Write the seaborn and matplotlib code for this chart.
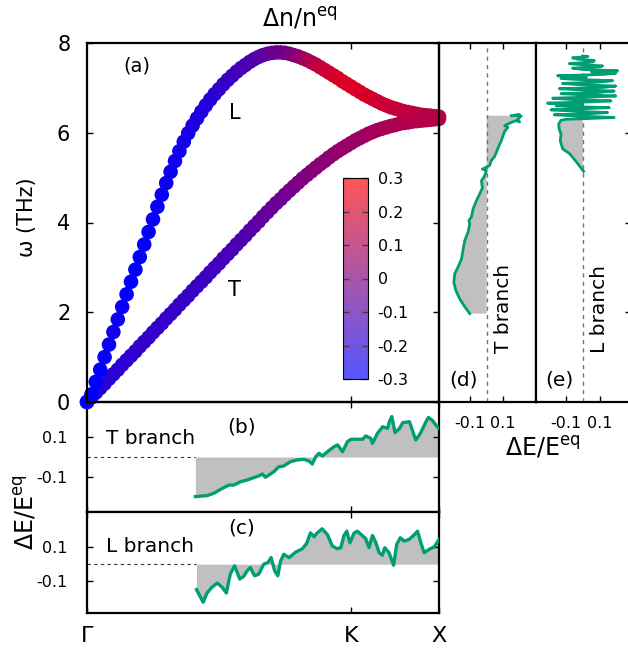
import numpy as np
import matplotlib
matplotlib.use("Agg")
import matplotlib.pyplot as plt
from matplotlib.colors import LinearSegmentedColormap, Normalize
from matplotlib.cm import ScalarMappable
import seaborn as sns

plt.rcParams['font.family'] = ['DejaVu Sans']
plt.rcParams['mathtext.fontset'] = 'dejavusans'
plt.rcParams['axes.unicode_minus'] = False

# ---- panel (a): dispersion, coloured by dn/n_eq ----
q = np.linspace(0, 1, 81)   # Gamma -> K -> X path (K at 0.75)
omega_L = [0.00, 0.17, 0.45, 0.72, 1.00, 1.28, 1.56, 1.84, 2.12, 2.40,
           2.68, 2.95, 3.23, 3.51, 3.79, 4.07, 4.35, 4.62, 4.88, 5.13,
           5.37, 5.59, 5.80, 5.99, 6.16, 6.32, 6.47, 6.61, 6.74, 6.86,
           6.97, 7.08, 7.18, 7.27, 7.36, 7.44, 7.51, 7.58, 7.64, 7.69,
           7.73, 7.76, 7.78, 7.79, 7.79, 7.78, 7.76, 7.73, 7.70, 7.66,
           7.62, 7.57, 7.52, 7.46, 7.40, 7.34, 7.28, 7.22, 7.15, 7.09,
           7.03, 6.97, 6.91, 6.85, 6.80, 6.75, 6.70, 6.65, 6.61, 6.57,
           6.54, 6.51, 6.48, 6.46, 6.44, 6.42, 6.40, 6.39, 6.38, 6.37, 6.36]
omega_T = [0.00, 0.10, 0.21, 0.31, 0.41, 0.52, 0.62, 0.72, 0.83, 0.93,
           1.03, 1.13, 1.24, 1.34, 1.44, 1.55, 1.65, 1.75, 1.86, 1.96,
           2.06, 2.17, 2.27, 2.37, 2.48, 2.58, 2.68, 2.78, 2.89, 2.99,
           3.09, 3.20, 3.30, 3.40, 3.51, 3.61, 3.71, 3.82, 3.92, 4.02,
           4.13, 4.23, 4.33, 4.43, 4.52, 4.62, 4.71, 4.80, 4.89, 4.98,
           5.06, 5.14, 5.22, 5.30, 5.37, 5.45, 5.52, 5.59, 5.65, 5.71,
           5.77, 5.83, 5.88, 5.93, 5.98, 6.02, 6.06, 6.09, 6.12, 6.15,
           6.17, 6.20, 6.22, 6.23, 6.25, 6.26, 6.27, 6.28, 6.29, 6.30, 6.31]
dn_L = [-0.30, -0.30, -0.30, -0.30, -0.29, -0.27, -0.26, -0.27, -0.28, -0.29,
        -0.30, -0.30, -0.30, -0.29, -0.29, -0.28, -0.28,
        -0.28, -0.27, -0.27, -0.26, -0.26, -0.25, -0.25, -0.24,
        -0.23, -0.23, -0.22, -0.21, -0.20, -0.19, -0.18, -0.17,
        -0.16, -0.15, -0.14, -0.13, -0.12, -0.11, -0.10, -0.08,
        -0.07, -0.06, -0.05, -0.04, -0.03, -0.01, 0.01, 0.03,
        0.06, 0.09, 0.11, 0.13, 0.15, 0.17, 0.18, 0.19,
        0.20, 0.21, 0.22, 0.22, 0.22, 0.21, 0.21, 0.20,
        0.19, 0.19, 0.18, 0.18, 0.17, 0.17, 0.16, 0.16,
        0.15, 0.15, 0.14, 0.14, 0.13, 0.13, 0.13, 0.13]
dn_T = [-0.24, -0.23, -0.22, -0.21, -0.21, -0.20, -0.20, -0.20, -0.19,
        -0.19, -0.19, -0.19, -0.18, -0.18, -0.18, -0.18, -0.18,
        -0.18, -0.18, -0.17, -0.17, -0.17, -0.17, -0.17, -0.17,
        -0.16, -0.16, -0.16, -0.15, -0.15, -0.14, -0.14, -0.13,
        -0.13, -0.12, -0.11, -0.11, -0.10, -0.09, -0.08, -0.07,
        -0.07, -0.06, -0.05, -0.04, -0.04, -0.03, -0.02, -0.01,
        0.00, 0.00, 0.01, 0.02, 0.02, 0.03, 0.03, 0.04,
        0.04, 0.05, 0.05, 0.06, 0.06, 0.07, 0.07, 0.08,
        0.08, 0.09, 0.09, 0.10, 0.10, 0.10, 0.11, 0.11,
        0.11, 0.12, 0.12, 0.12, 0.12, 0.12, 0.12, 0.12]

# ---- panel (b): T branch dE/E_eq along the path ----
xb = [0.308, 0.341, 0.360, 0.379, 0.403, 0.417, 0.436, 0.455, 0.469, 0.488,
      0.498, 0.507, 0.517, 0.531, 0.545, 0.559, 0.578, 0.597, 0.616, 0.631,
      0.640, 0.650, 0.659, 0.669, 0.683, 0.702, 0.712, 0.726, 0.740, 0.750,
      0.769, 0.783, 0.792, 0.806, 0.811, 0.825, 0.840, 0.854, 0.859, 0.866,
      0.875, 0.888, 0.897, 0.916, 0.934, 0.947, 0.963, 0.970, 0.982, 0.991, 1.000]
dEb = [-0.203, -0.198, -0.186, -0.166, -0.144, -0.144, -0.127, -0.118, -0.109, -0.097,
       -0.087, -0.104, -0.092, -0.075, -0.050, -0.046, -0.024, -0.015, -0.012, -0.021,
       -0.036, 0.002, 0.019, 0.005, 0.027, 0.053, 0.062, 0.027, 0.079, 0.091,
       0.091, 0.091, 0.108, 0.096, 0.070, 0.121, 0.155, 0.147, 0.181, 0.207,
       0.125, 0.147, 0.176, 0.181, 0.087, 0.121, 0.181, 0.203, 0.186, 0.164, 0.147]

# ---- panel (c): L branch ----
xc = [0.311, 0.330, 0.341, 0.355, 0.370, 0.384, 0.396, 0.407, 0.419, 0.434,
      0.445, 0.455, 0.464, 0.476, 0.488, 0.502, 0.514, 0.523, 0.533, 0.542,
      0.550, 0.559, 0.574, 0.593, 0.612, 0.624, 0.635, 0.645, 0.654, 0.668,
      0.683, 0.697, 0.711, 0.721, 0.730, 0.738, 0.747, 0.759, 0.768, 0.782,
      0.792, 0.801, 0.811, 0.820, 0.830, 0.839, 0.846, 0.858, 0.871, 0.880,
      0.890, 0.901, 0.915, 0.930, 0.939, 0.949, 0.958, 0.972, 0.987, 1.000]
dEc = [-0.151, -0.226, -0.171, -0.137, -0.112, -0.137, -0.171, -0.059, -0.010, -0.088,
       -0.073, -0.039, -0.020, -0.069, -0.059, 0.000, 0.010, 0.039, -0.039, -0.069,
       0.019, 0.059, 0.039, 0.072, 0.092, 0.123, 0.186, 0.163, 0.186, 0.210,
       0.176, 0.108, 0.092, 0.098, 0.170, 0.196, 0.127, 0.186, 0.196, 0.170,
       0.151, 0.098, 0.170, 0.131, 0.068, 0.053, 0.098, 0.068, -0.006, 0.118,
       0.157, 0.137, 0.147, 0.176, 0.196, 0.123, 0.068, 0.088, 0.104, 0.147]

# ---- panel (d): T branch vs frequency ----
dEd = [-0.103, -0.133, -0.164, -0.188, -0.200, -0.194, -0.174, -0.153, -0.143, -0.133,
       -0.113, -0.103, -0.108, -0.093, -0.083, -0.062, -0.042, -0.026, -0.032, -0.012,
       -0.002, -0.026, 0.018, 0.028, 0.048, 0.063, 0.075, 0.089, 0.099, 0.109,
       0.129, 0.109, 0.150, 0.180, 0.200, 0.190, 0.210, 0.170, 0.200, 0.150]
wd = [1.97, 2.12, 2.30, 2.49, 2.67, 2.86, 3.01, 3.19, 3.41, 3.60,
      3.79, 3.97, 4.05, 4.12, 4.30, 4.49, 4.64, 4.77, 4.93, 5.04,
      5.16, 5.19, 5.27, 5.38, 5.47, 5.60, 5.71, 5.82, 5.93, 6.03,
      6.12, 6.16, 6.23, 6.27, 6.24, 6.31, 6.37, 6.39, 6.40, 6.38]

# ---- panel (e): L branch vs frequency ----
dEe_low = [0.004, -0.022, -0.051, -0.080, -0.119, -0.133, -0.129, -0.139, -0.143, -0.129, -0.100]
we_low = [5.14, 5.27, 5.41, 5.54, 5.64, 5.82, 5.97, 6.08, 6.19, 6.28, 6.30]
dEe_up = [0.05, 0.184, -0.02, -0.169, 0.02, 0.145, -0.05, -0.188, 0.03, 0.155,
          -0.05, -0.158, 0.0, -0.208, 0.06, 0.165, -0.06, -0.178, 0.08, 0.194,
          -0.03, -0.129, 0.10, 0.184, -0.04, -0.139, 0.12, 0.194, -0.02, -0.120,
          0.10, 0.175, -0.05, -0.129, 0.02, -0.149, 0.12, 0.194, 0.05, 0.204,
          0.0, -0.061, 0.10, 0.116, -0.02, -0.080, 0.06, 0.067, -0.03, -0.061,
          0.03, 0.00]
we_up = [6.32, 6.34, 6.37, 6.40, 6.42, 6.45, 6.48, 6.51, 6.54, 6.56,
         6.58, 6.60, 6.63, 6.66, 6.69, 6.71, 6.74, 6.77, 6.80, 6.82,
         6.85, 6.87, 6.90, 6.93, 6.96, 6.98, 7.01, 7.04, 7.07, 7.10,
         7.13, 7.16, 7.19, 7.21, 7.24, 7.27, 7.30, 7.33, 7.36, 7.38,
         7.41, 7.44, 7.47, 7.49, 7.52, 7.54, 7.58, 7.61, 7.64, 7.67,
         7.70, 7.71]

cb_ticks = [-0.3, -0.2, -0.1, 0.0, 0.1, 0.2, 0.3]
cb_labels = ['-0.3', '-0.2', '-0.1', '0', '0.1', '0.2', '0.3']
path_ticks = [0, 0.75, 1]
path_labels = ['Γ', 'K', 'X']

green = '#009e73'
gray = '#c0c0c0'
cmap = LinearSegmentedColormap.from_list('br', ['#0000ff', '#ff0000'])
cmap_light = LinearSegmentedColormap.from_list('br_light', ['#5555ff', '#ff5555'])

W, H = 628, 648
fig = plt.figure(figsize=(W / 100, H / 100), dpi=100)


def box(x0, y0, x1, y1):
    return [x0 / W, 1 - y1 / H, (x1 - x0) / W, (y1 - y0) / H]


ax_a = fig.add_axes(box(87, 43, 439, 402))
ax_b = fig.add_axes(box(87, 402, 439, 512))
ax_c = fig.add_axes(box(87, 512, 439, 613))
ax_d = fig.add_axes(box(439, 43, 536, 402))
ax_e = fig.add_axes(box(536, 43, 631, 402))
cax = fig.add_axes(box(343, 178, 368, 379))
ax_a.set_zorder(3)
ax_a.patch.set_alpha(0)
cax.set_zorder(4)

for ax in (ax_a, ax_b, ax_c, ax_d, ax_e):
    for s in ax.spines.values():
        s.set_linewidth(1.6)
    ax.tick_params(direction='in', length=4, width=1, top=True, right=True)

# (a)
norm = (-0.3, 0.3)
sns.scatterplot(x=q, y=omega_T, hue=dn_T, palette=cmap, hue_norm=norm, s=110,
                linewidth=0, legend=False, ax=ax_a)
sns.scatterplot(x=q, y=omega_L, hue=dn_L, palette=cmap, hue_norm=norm, s=110,
                linewidth=0, legend=False, ax=ax_a)
for coll in ax_a.collections:
    coll.set_clip_on(False)
ax_a.set_xlim(0, 1)
ax_a.set_ylim(0, 8)
ax_a.set_xticks([0.75])
ax_a.set_xticklabels([])
ax_a.set_yticks([0, 2, 4, 6, 8])
ax_a.tick_params(axis='y', labelsize=15, pad=12)
ax_a.set_xlabel('')
ax_a.set_ylabel('')
ax_a.text(0.142, 7.49, '(a)', fontsize=14, ha='center', va='center')
ax_a.text(0.42, 6.44, 'L', fontsize=15, ha='center', va='center')
ax_a.text(0.42, 2.49, 'T', fontsize=15, ha='center', va='center')

sm = ScalarMappable(norm=Normalize(*norm), cmap=cmap_light)
cbar = fig.colorbar(sm, cax=cax)
cbar.set_ticks(cb_ticks)
cbar.set_ticklabels(cb_labels)
cbar.outline.set_linewidth(0.8)
cax.tick_params(direction='in', length=4, width=1, left=True, right=True,
                labelsize=11.5, pad=7, color='0.25')

# (b) and (c)
for ax, xs, ys, lim, lab, plab, plab_y in (
        (ax_b, xb, dEb, (-0.282, 0.282), 'T branch', '(b)', 0.155),
        (ax_c, xc, dEc, (-0.29, 0.31), 'L branch', '(c)', 0.215)):
    ax.fill_between(xs, ys, 0, color=gray, lw=0, zorder=1)
    ax.plot([0, xs[0]], [0, 0], ls=(0, (3, 3)), color='0.2', lw=0.8, zorder=2)
    sns.lineplot(x=xs, y=ys, color=green, lw=2.4, ax=ax, zorder=3)
    ax.set_xlim(0, 1)
    ax.set_ylim(*lim)
    ax.set_yticks([-0.1, 0.1])
    ax.set_yticklabels(['-0.1', '0.1'])
    ax.tick_params(axis='y', labelsize=11.5, pad=14)
    ax.set_xticks(path_ticks)
    ax.set_xlabel('')
    ax.set_ylabel('')
    ax.text(0.18, lim[1] * 0.34, lab, fontsize=14.5, ha='center', va='center')
    ax.text(0.44, plab_y, plab, fontsize=14.5, ha='center', va='center')
ax_b.set_xticklabels([])
ax_c.set_xticklabels(path_labels)
ax_c.tick_params(axis='x', labelsize=16, pad=9)

# (d) and (e)
ax_d.fill(np.r_[0, dEd, 0], np.r_[wd[0], wd, wd[-1]], color=gray, lw=0, zorder=1)
sns.lineplot(x=dEd, y=wd, sort=False, estimator=None, color=green, lw=2.0,
             ax=ax_d, zorder=3)
ax_e.fill(np.r_[0, dEe_low, 0], np.r_[we_low[0], we_low, we_low[-1]],
          color=gray, lw=0, zorder=1)
sns.lineplot(x=dEe_low + dEe_up, y=we_low + we_up, sort=False, estimator=None,
             color=green, lw=2.0, ax=ax_e, zorder=3)
for ax, lim, lab, plab in ((ax_d, (-0.29, 0.30), 'T branch', '(d)'),
                           (ax_e, (-0.276, 0.283), 'L branch', '(e)')):
    ax.axvline(0, color='0.45', ls=(0, (3, 3)), lw=1.0, zorder=2)
    ax.set_xlim(*lim)
    ax.set_ylim(0, 8)
    ax.set_xticks([-0.1, 0.1])
    ax.set_xticklabels(['-0.1', '0.1'])
    ax.tick_params(axis='x', labelsize=11.5, pad=10)
    ax.set_yticks([2, 4, 6])
    ax.set_yticklabels([])
    ax.tick_params(axis='y', left=False, right=(ax is ax_e))
    ax.set_xlabel('')
    ax.set_ylabel('')
    ax.text(0.10, 2.08, lab, fontsize=14.5, rotation=90, ha='center', va='center')
    ax.text(-0.14, 0.49, plab, fontsize=14.5, ha='center', va='center')

# shared labels
fig.text(300 / W, 1 - 18 / H, r'$\Delta$n/n$^{\mathrm{eq}}$', fontsize=17,
         ha='center', va='center')
fig.text(27 / W, 1 - 217 / H, 'ω (THz)', fontsize=15, rotation=90,
         ha='center', va='center')
fig.text(25 / W, 1 - 512 / H, r'$\Delta$E/E$^{\mathrm{eq}}$', fontsize=17,
         rotation=90, ha='center', va='center')
fig.text(543 / W, 1 - 447 / H, r'$\Delta$E/E$^{\mathrm{eq}}$', fontsize=17,
         ha='center', va='center')

fig.savefig('out.png', dpi=100)
